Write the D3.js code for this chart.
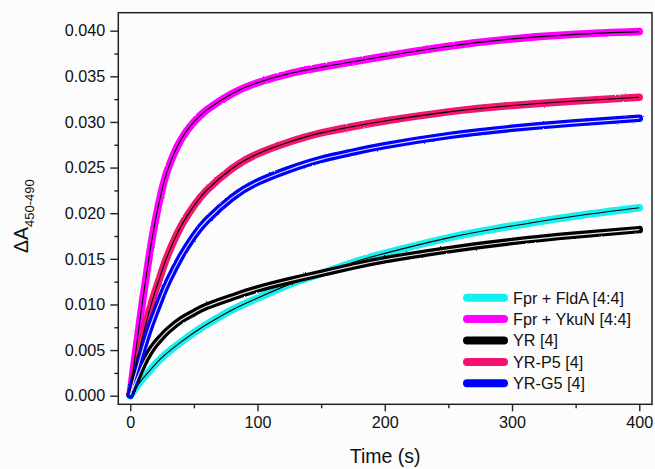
<!DOCTYPE html>
<html>
<head>
<meta charset="utf-8">
<script src="https://cdn.jsdelivr.net/npm/d3@7"></script>
<style>
  html, body { margin: 0; padding: 0; background: #fcfcfc; }
  svg { display: block; font-family: "Liberation Sans", Arial, sans-serif; }
</style>
</head>
<body>
<svg id="chart" width="655" height="469"></svg>
<script>
// Sampling times (s)
const times = [0, 2, 5, 10, 15, 20, 25, 30, 40, 50, 60, 80, 100, 125, 150, 175, 200, 250, 300, 350, 400];

// ΔA450-490 traces for each sample
const fprFldA = [0.0000, 0.0004, 0.0010, 0.0019, 0.0027, 0.0035, 0.0042, 0.0048, 0.0059, 0.0069, 0.0078, 0.0094, 0.0107, 0.0122, 0.0134, 0.0146, 0.0156, 0.0173, 0.0186, 0.0197, 0.0206];
const fprYkuN = [0.0002, 0.0024, 0.0056, 0.0107, 0.0154, 0.0194, 0.0226, 0.0250, 0.0281, 0.0300, 0.0313, 0.0331, 0.0343, 0.0353, 0.0360, 0.0366, 0.0372, 0.0383, 0.0391, 0.0396, 0.0399];
const yr      = [0.0001, 0.0008, 0.0018, 0.0034, 0.0047, 0.0057, 0.0065, 0.0072, 0.0083, 0.0091, 0.0098, 0.0108, 0.0117, 0.0126, 0.0134, 0.0142, 0.0149, 0.0160, 0.0169, 0.0176, 0.0182];
const yrP5    = [0.0002, 0.0016, 0.0036, 0.0066, 0.0093, 0.0116, 0.0137, 0.0156, 0.0186, 0.0208, 0.0225, 0.0249, 0.0265, 0.0278, 0.0288, 0.0295, 0.0301, 0.0311, 0.0318, 0.0323, 0.0327];
const yrG5    = [0.0001, 0.0012, 0.0027, 0.0051, 0.0073, 0.0092, 0.0110, 0.0126, 0.0153, 0.0175, 0.0192, 0.0217, 0.0234, 0.0248, 0.0259, 0.0267, 0.0274, 0.0285, 0.0293, 0.0299, 0.0304];

const seriesNames = ["Fpr + FldA [4:4]", "Fpr + YkuN [4:4]", "YR [4]", "YR-P5 [4]", "YR-G5 [4]"];
const seriesValues = [fprFldA, fprYkuN, yr, yrP5, yrG5];
const seriesColors = ["#13f0f0", "#ff00ff", "#000000", "#f3126f", "#0000ff"];
const fitColors = ["#000000", "#000000", "#e8e8e8", "#000000", "#e0e4ff"];

const xMajorTicks = [0, 100, 200, 300, 400];
const xMinorTicks = [50, 150, 250, 350];
const yMajorTicks = [0, 0.005, 0.010, 0.015, 0.020, 0.025, 0.030, 0.035, 0.040];
const yMinorTicks = [0.0025, 0.0075, 0.0125, 0.0175, 0.0225, 0.0275, 0.0325, 0.0375];

const W = 655, H = 469;
const margin = { left: 118.3, right: 3, top: 12.7, bottom: 64.7 };

const svg = d3.select("#chart");

svg.append("rect").attr("width", W).attr("height", H).attr("fill", "#fcfcfc");

const x = d3.scaleLinear().domain([-9.4, 410]).range([margin.left, W - margin.right]);
const y = d3.scaleLinear().domain([-0.00094, 0.04197]).range([H - margin.bottom, margin.top]);

// Slightly ragged edge for the measured traces
const defs = svg.append("defs");
const rough = defs.append("filter").attr("id", "rough")
  .attr("x", "-5%").attr("y", "-5%").attr("width", "110%").attr("height", "110%");
rough.append("feTurbulence").attr("type", "fractalNoise").attr("baseFrequency", 0.9)
  .attr("numOctaves", 2).attr("seed", 3).attr("result", "noise");
rough.append("feDisplacementMap").attr("in", "SourceGraphic").attr("in2", "noise")
  .attr("scale", 1.8).attr("xChannelSelector", "R").attr("yChannelSelector", "G");

const clip = defs.append("clipPath").attr("id", "plotclip");
clip.append("rect").attr("x", margin.left).attr("y", margin.top)
  .attr("width", W - margin.left - margin.right).attr("height", H - margin.top - margin.bottom);

const line = d3.line()
  .x((d, i) => x(times[i]))
  .y(d => y(d))
  .curve(d3.curveNatural);

const plot = svg.append("g").attr("clip-path", "url(#plotclip)");

// Measured traces (thick)
seriesValues.forEach((vals, k) => {
  plot.append("path")
    .attr("d", line(vals))
    .attr("fill", "none")
    .attr("stroke", seriesColors[k])
    .attr("stroke-width", 7.5)
    .attr("stroke-linecap", "round")
    .attr("stroke-linejoin", "round")
    .attr("filter", "url(#rough)");
});

// Fitted curves (thin)
seriesValues.forEach((vals, k) => {
  plot.append("path")
    .attr("d", line(vals))
    .attr("fill", "none")
    .attr("stroke", fitColors[k])
    .attr("stroke-width", 1.1);
});

// Frame
svg.append("rect")
  .attr("x", margin.left).attr("y", margin.top)
  .attr("width", W - margin.left - margin.right)
  .attr("height", H - margin.top - margin.bottom)
  .attr("fill", "none").attr("stroke", "#222").attr("stroke-width", 1.5);

// Axes
const xAxis = svg.append("g").attr("transform", `translate(0,${H - margin.bottom})`)
  .call(d3.axisBottom(x).tickValues(xMajorTicks).tickSize(7).tickPadding(5).tickFormat(d3.format("d")));
const xMinor = svg.append("g").attr("transform", `translate(0,${H - margin.bottom})`)
  .call(d3.axisBottom(x).tickValues(xMinorTicks).tickSize(4).tickFormat(""));
const yAxis = svg.append("g").attr("transform", `translate(${margin.left},0)`)
  .call(d3.axisLeft(y).tickValues(yMajorTicks).tickSize(8).tickPadding(5).tickFormat(d3.format(".3f")));
const yMinor = svg.append("g").attr("transform", `translate(${margin.left},0)`)
  .call(d3.axisLeft(y).tickValues(yMinorTicks).tickSize(4).tickFormat(""));

[xAxis, xMinor, yAxis, yMinor].forEach(g => {
  g.select(".domain").remove();
  g.selectAll(".tick line").attr("stroke", "#222").attr("stroke-width", 1.4);
  g.selectAll("text").attr("fill", "#111").attr("font-size", 16.2)
    .attr("font-family", "'Liberation Sans', Arial, sans-serif");
});

// Axis titles
svg.append("text")
  .attr("x", (margin.left + W - margin.right) / 2).attr("y", 463)
  .attr("text-anchor", "middle").attr("font-size", 19.5).attr("fill", "#111")
  .text("Time (s)");

const yt = svg.append("text")
  .attr("transform", "translate(28,253) rotate(-90)")
  .attr("text-anchor", "start").attr("font-size", 19.5).attr("fill", "#111");
yt.append("tspan").text("ΔA");
yt.append("tspan").attr("font-size", 13).attr("dy", 6).text("450-490");

// Legend
const legend = svg.append("g");
seriesNames.forEach((name, k) => {
  const ly = 297.7 + k * 21.4;
  legend.append("line")
    .attr("x1", 467).attr("x2", 504).attr("y1", ly).attr("y2", ly)
    .attr("stroke", seriesColors[k]).attr("stroke-width", 8).attr("stroke-linecap", "round");
  legend.append("text")
    .attr("x", 513).attr("y", ly + 5.8)
    .attr("font-size", 16.2).attr("fill", "#111")
    .text(name);
});
</script>
</body>
</html>
